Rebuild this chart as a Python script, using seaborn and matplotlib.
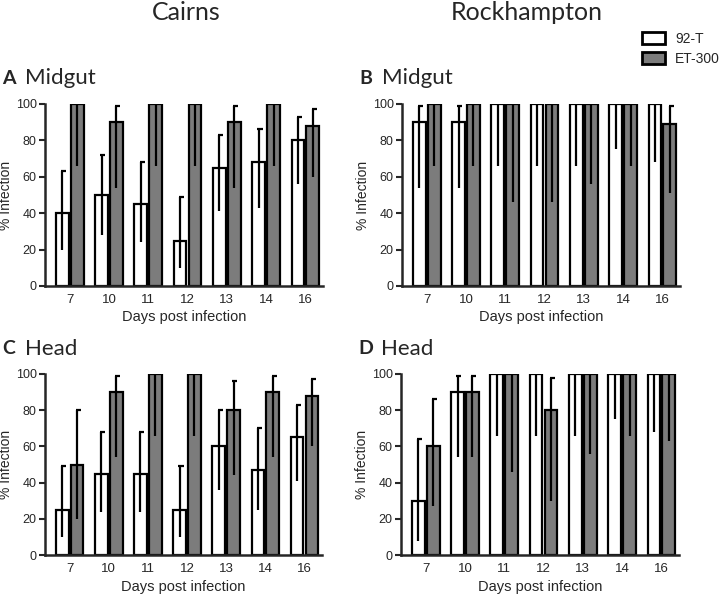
import pandas as pd
import matplotlib.pyplot as plt
import seaborn as sns
from matplotlib.patches import Patch

days = ['7', '10', '11', '12', '13', '14', '16']
strains = ['92-T', 'ET-300']

# Cairns midgut: % infection with lower / upper 95% CI
cm_92 = [40, 50, 45, 25, 65, 68, 80]
cm_92_lo = [20, 28, 24, 10, 41, 43, 56]
cm_92_hi = [63, 72, 68, 49, 83, 86, 93]
cm_et = [100, 90, 100, 100, 90, 100, 88]
cm_et_lo = [66, 54, 66, 66, 54, 66, 60]
cm_et_hi = [100, 99, 100, 100, 99, 100, 97]

# Rockhampton midgut
rm_92 = [90, 90, 100, 100, 100, 100, 100]
rm_92_lo = [54, 54, 66, 66, 66, 75, 68]
rm_92_hi = [99, 99, 100, 100, 100, 100, 100]
rm_et = [100, 100, 100, 100, 100, 100, 89]
rm_et_lo = [66, 66, 46, 46, 56, 66, 51]
rm_et_hi = [100, 100, 100, 100, 100, 100, 99]

# Cairns head
ch_92 = [25, 45, 45, 25, 60, 47, 65]
ch_92_lo = [10, 24, 24, 10, 36, 25, 41]
ch_92_hi = [49, 68, 68, 49, 80, 70, 83]
ch_et = [50, 90, 100, 100, 80, 90, 88]
ch_et_lo = [20, 54, 66, 66, 44, 54, 60]
ch_et_hi = [80, 99, 100, 100, 96, 99, 97]

# Rockhampton head
rh_92 = [30, 90, 100, 100, 100, 100, 100]
rh_92_lo = [8, 54, 66, 66, 66, 75, 68]
rh_92_hi = [64, 99, 100, 100, 100, 100, 100]
rh_et = [60, 90, 100, 80, 100, 100, 100]
rh_et_lo = [27, 54, 46, 30, 56, 66, 63]
rh_et_hi = [86, 99, 100, 98, 100, 100, 100]

sns.set_style('ticks')
plt.rcParams['font.family'] = ['Liberation Sans', 'DejaVu Sans']
title_font = ['Lato', 'DejaVu Sans']

gray = '#7c7c7c'
pal = {'92-T': 'white', 'ET-300': gray}

W, H = 723, 597
fig = plt.figure(figsize=(W / 100, H / 100), dpi=100)

def frac(x0, y_top, x1, y_bot):
    # pixel box -> figure fraction rect
    return [x0 / W, 1 - y_bot / H, (x1 - x0) / W, (y_bot - y_top) / H]

panels = [
    ('A', 'Midgut', frac(45, 104, 323, 286), 78,
     (cm_92, cm_92_lo, cm_92_hi), (cm_et, cm_et_lo, cm_et_hi)),
    ('B', 'Midgut', frac(402, 104, 680, 286), 78,
     (rm_92, rm_92_lo, rm_92_hi), (rm_et, rm_et_lo, rm_et_hi)),
    ('C', 'Head', frac(45, 374, 322, 555), 349,
     (ch_92, ch_92_lo, ch_92_hi), (ch_et, ch_et_lo, ch_et_hi)),
    ('D', 'Head', frac(401, 374, 679, 555), 349,
     (rh_92, rh_92_lo, rh_92_hi), (rh_et, rh_et_lo, rh_et_hi)),
]

for letter, tissue, rect, title_y, s92, set300 in panels:
    ax = fig.add_axes(rect)
    df = pd.DataFrame({
        'day': days * 2,
        'strain': ['92-T'] * 7 + ['ET-300'] * 7,
        'pct': s92[0] + set300[0],
    })
    sns.barplot(data=df, x='day', y='pct', hue='strain', order=days,
                hue_order=strains, palette=pal, edgecolor='black',
                linewidth=1.6, width=0.76, gap=0.15, errorbar=None,
                legend=False, ax=ax)

    # asymmetric CI: lower part drawn inside the bar, upper part with a cap
    for cont, (vals, lo, hi) in zip(ax.containers, [s92, set300]):
        for bar, v, l, h in zip(cont, vals, lo, hi):
            x = bar.get_x() + bar.get_width() / 2
            ax.vlines(x, l, v, color='black', lw=1.6, zorder=5)
            if h > v:
                ax.vlines(x, v, h, color='black', lw=1.6, zorder=5)
                ax.hlines(h, x - 0.03, x + 0.1, color='black', lw=1.6, zorder=5)

    ax.set_ylim(0, 100)
    ax.set_xlim(-0.63, 6.45)
    ax.set_yticks([0, 20, 40, 60, 80, 100])
    ax.tick_params(axis='y', length=4, width=1.5, labelsize=9, pad=2)
    ax.tick_params(axis='x', length=0, labelsize=9.5, pad=6)
    for sp in ['left', 'bottom']:
        ax.spines[sp].set_linewidth(1.8)
    sns.despine(ax=ax)
    ax.set_ylabel('% Infection', fontsize=10, labelpad=2)
    ax.set_xlabel('Days post infection', fontsize=10.5, labelpad=3)

    x_left = rect[0] - 43 / W
    fig.text(x_left, 1 - title_y / H, letter, fontsize=14, fontweight='bold',
             va='center', family=title_font)
    fig.text(x_left + 23 / W, 1 - title_y / H, tissue, fontsize=16,
             va='center', family=title_font)

fig.text(186 / W, 1 - 12 / H, 'Cairns', fontsize=18, ha='center', va='center',
         family=title_font)
fig.text(527 / W, 1 - 12 / H, 'Rockhampton', fontsize=18, ha='center',
         va='center', family=title_font)

handles = [Patch(facecolor=pal[s], edgecolor='black', linewidth=2) for s in strains]
fig.legend(handles, strains, loc='upper left',
           bbox_to_anchor=(642 / W, 1 - 32 / H), borderpad=0, borderaxespad=0,
           frameon=False, fontsize=10, handlelength=1.65, handleheight=0.95,
           handletextpad=0.75, labelspacing=0.45)

fig.savefig('out.png', dpi=100)
